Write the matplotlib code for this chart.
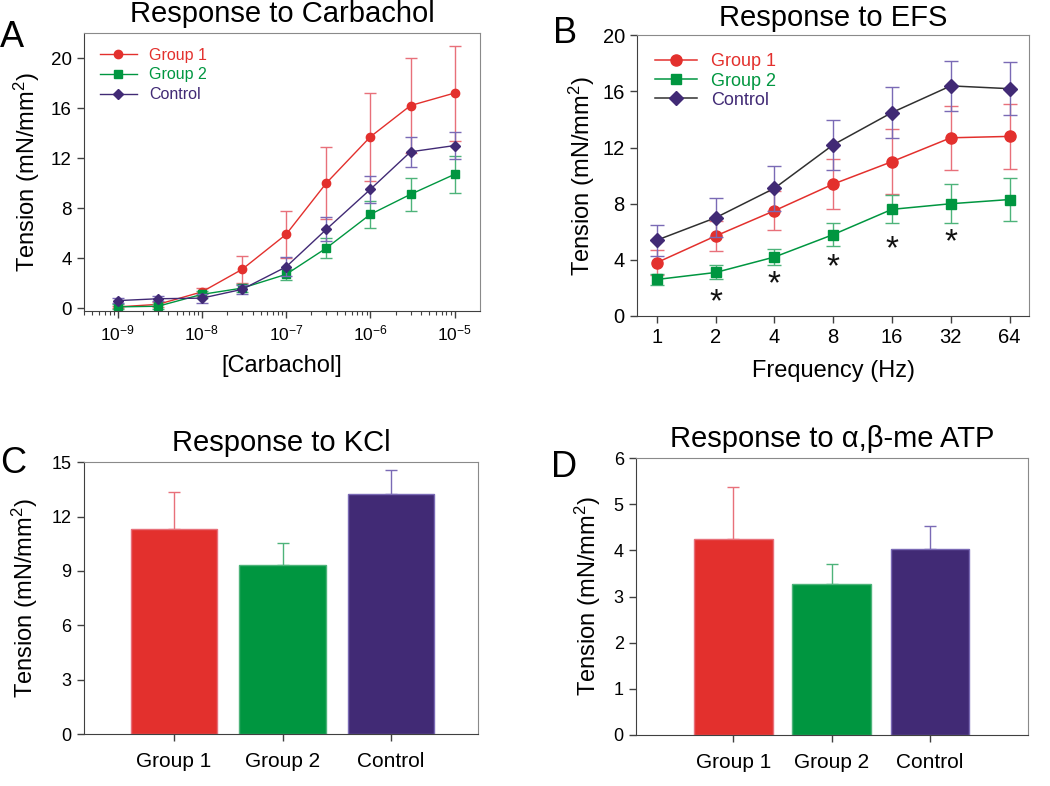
import matplotlib
matplotlib.use("Agg")
import matplotlib.pyplot as plt
import numpy as np

plt.rcParams['font.family'] = ['Liberation Sans', 'DejaVu Sans']
plt.rcParams['mathtext.fontset'] = 'custom'
plt.rcParams['mathtext.rm'] = 'Liberation Sans'
plt.rcParams['mathtext.it'] = 'Liberation Sans:italic'

# ---- data ----
groups = ['Group 1', 'Group 2', 'Control']

carb_conc = [1e-9, 3e-9, 1e-8, 3e-8, 1e-7, 3e-7, 1e-6, 3e-6, 1e-5]
carb_g1 = [0.1, 0.3, 1.3, 3.1, 5.9, 10.0, 13.7, 16.2, 17.2]
carb_g1_err = [0.1, 0.2, 0.3, 1.1, 1.9, 2.9, 3.5, 3.8, 3.8]
carb_g2 = [0.1, 0.15, 1.1, 1.6, 2.7, 4.8, 7.5, 9.1, 10.7]
carb_g2_err = [0.2, 0.2, 0.3, 0.3, 0.45, 0.8, 1.1, 1.3, 1.5]
carb_ctl = [0.6, 0.75, 0.8, 1.5, 3.3, 6.3, 9.5, 12.5, 13.0]
carb_ctl_err = [0.2, 0.2, 0.35, 0.35, 0.75, 0.95, 1.1, 1.2, 1.1]

efs_freq = ['1', '2', '4', '8', '16', '32', '64']
efs_g1 = [3.8, 5.7, 7.5, 9.4, 11.0, 12.7, 12.8]
efs_g1_err = [0.9, 1.1, 1.4, 1.8, 2.3, 2.3, 2.3]
efs_g2 = [2.6, 3.1, 4.2, 5.8, 7.6, 8.0, 8.3]
efs_g2_err = [0.4, 0.5, 0.6, 0.8, 1.0, 1.4, 1.5]
efs_ctl = [5.4, 7.0, 9.1, 12.2, 14.5, 16.4, 16.2]
efs_ctl_err = [1.1, 1.4, 1.6, 1.8, 1.8, 1.8, 1.9]
star_idx = [1, 2, 3, 4, 5]
star_y = [1.2, 2.5, 3.7, 5.0, 5.5]

kcl = [11.33, 9.35, 13.27]
kcl_err = [2.0, 1.2, 1.3]
atp = [4.24, 3.27, 4.04]
atp_err = [1.13, 0.43, 0.50]

red, green, purple = '#E3302D', '#009640', '#412A75'
red_l, green_l, purple_l = '#E8707A', '#4DB37A', '#7A6AB5'

fig = plt.figure(figsize=(10.5, 7.86), dpi=100)


def style(ax):
    for s in ['left', 'bottom']:
        ax.spines[s].set_color('#404040')
    for s in ['top', 'right']:
        ax.spines[s].set_color('#8a8a8a')
    ax.tick_params(direction='out', length=5, width=1, color='#404040', pad=4)
    ax.tick_params(which='minor', direction='out', length=3, width=0.8, color='#404040')


def ylab(ax, pad=6):
    ax.set_ylabel(r'Tension (mN/mm$^2$)', fontsize=17, labelpad=pad)


# ---- A ----
axA = fig.add_axes([0.080, 0.604, 0.377, 0.354])
for y, e, c, cl, m, lab in [(carb_g1, carb_g1_err, red, red_l, 'o', groups[0]),
                            (carb_g2, carb_g2_err, green, green_l, 's', groups[1]),
                            (carb_ctl, carb_ctl_err, purple, purple_l, 'D', groups[2])]:
    axA.errorbar(carb_conc, y, yerr=e, fmt='none', ecolor=cl, elinewidth=1, capsize=4, capthick=1)
    axA.plot(carb_conc, y, color=c, lw=1, marker=m, ms=6 if m != 'D' else 5,
             mfc=c, mec=c, label=lab)
axA.set_xscale('log')
axA.set_xlim(10 ** -9.4, 10 ** -4.7)
axA.set_ylim(-0.25, 22)
axA.set_yticks([0, 4, 8, 12, 16, 20])
axA.set_xticks([1e-9, 1e-8, 1e-7, 1e-6, 1e-5])
axA.set_xticklabels([r'10$^{-9}$', r'10$^{-8}$', r'10$^{-7}$', r'10$^{-6}$', r'10$^{-5}$'])
axA.tick_params(axis='x', labelsize=12.5)
axA.tick_params(axis='y', labelsize=13.5)
style(axA)
axA.set_xlabel('[Carbachol]', fontsize=17, labelpad=8)
ylab(axA)
axA.set_title('Response to Carbachol', fontsize=21, pad=8)
axA.legend(loc='upper left', frameon=False, fontsize=11.5, handlelength=2.3,
           labelcolor='markerfacecolor', borderaxespad=0.6, labelspacing=0.3,
           handletextpad=0.8, bbox_to_anchor=(0.0, 1.005))

# ---- B ----
axB = fig.add_axes([0.607, 0.598, 0.373, 0.357])
xb = np.arange(len(efs_freq))
for y, e, c, lc, cl, m, lab in [(efs_g1, efs_g1_err, red, red, red_l, 'o', groups[0]),
                                (efs_g2, efs_g2_err, green, green, green_l, 's', groups[1]),
                                (efs_ctl, efs_ctl_err, purple, '#303030', purple_l, 'D', groups[2])]:
    axB.errorbar(xb, y, yerr=e, fmt='none', ecolor=cl, elinewidth=1, capsize=5, capthick=1)
    axB.plot(xb, y, color=lc, lw=1.1, marker=m, ms=8 if m == 'o' else 7,
             mfc=c, mec=c, label=lab)
for i, sy in zip(star_idx, star_y):
    axB.text(xb[i], sy, '*', fontsize=24, ha='center', va='center_baseline', color='#111111')
axB.set_xlim(-0.33, 6.33)
axB.set_ylim(0, 20)
axB.set_xticks(xb)
axB.set_xticklabels(efs_freq)
axB.set_yticks([0, 4, 8, 12, 16, 20])
axB.tick_params(labelsize=14.5)
style(axB)
axB.set_xlabel('Frequency (Hz)', fontsize=17, labelpad=9)
ylab(axB, pad=4)
axB.set_title('Response to EFS', fontsize=21, pad=7)
axB.legend(loc='upper left', frameon=False, fontsize=13, handlelength=2.3,
           labelcolor='markerfacecolor', borderaxespad=0.6, labelspacing=0.12,
           handletextpad=0.8, bbox_to_anchor=(0.0, 1.0))

# ---- C ----
axC = fig.add_axes([0.080, 0.066, 0.375, 0.346])
xc = np.arange(len(groups))
cols = [red, green, purple]
ecols = [red_l, green_l, purple_l]
for i in range(len(groups)):
    axC.bar(xc[i], kcl[i], width=0.8, color=cols[i], edgecolor=ecols[i], lw=1, zorder=2)
    axC.errorbar(xc[i], kcl[i], yerr=[[0], [kcl_err[i]]], fmt='none', ecolor=ecols[i],
                 elinewidth=1, capsize=4, capthick=1, zorder=1)
axC.set_xlim(-0.83, 2.8)
axC.set_ylim(0, 15)
axC.set_yticks([0, 3, 6, 9, 12, 15])
axC.set_xticks(xc)
axC.set_xticklabels(groups, fontsize=15)
axC.tick_params(axis='y', labelsize=13)
style(axC)
axC.tick_params(axis='x', pad=8)
ylab(axC, pad=8)
axC.set_title('Response to KCl', fontsize=21, pad=8)

# ---- D ----
axD = fig.add_axes([0.606, 0.065, 0.373, 0.352])
for i in range(len(groups)):
    axD.bar(xc[i], atp[i], width=0.8, color=cols[i], edgecolor=ecols[i], lw=1, zorder=2)
    axD.errorbar(xc[i], atp[i], yerr=[[0], [atp_err[i]]], fmt='none', ecolor=ecols[i],
                 elinewidth=1, capsize=4, capthick=1, zorder=1)
axD.set_xlim(-0.99, 3.0)
axD.set_ylim(0, 6)
axD.set_yticks([0, 1, 2, 3, 4, 5, 6])
axD.set_xticks(xc)
axD.set_xticklabels(groups, fontsize=15)
axD.tick_params(axis='y', labelsize=13)
style(axD)
axD.tick_params(axis='x', pad=8)
ylab(axD, pad=8)
axD.set_title(r'Response to α,β-me ATP', fontsize=21, pad=8)

# panel letters
for x, y, t in [(0.0, 0.975, 'A'), (0.527, 0.98, 'B'), (0.0, 0.432, 'C'), (0.525, 0.427, 'D')]:
    fig.text(x, y, t, fontsize=26, va='top', ha='left')

fig.savefig('out.png', dpi=100, facecolor='white')
